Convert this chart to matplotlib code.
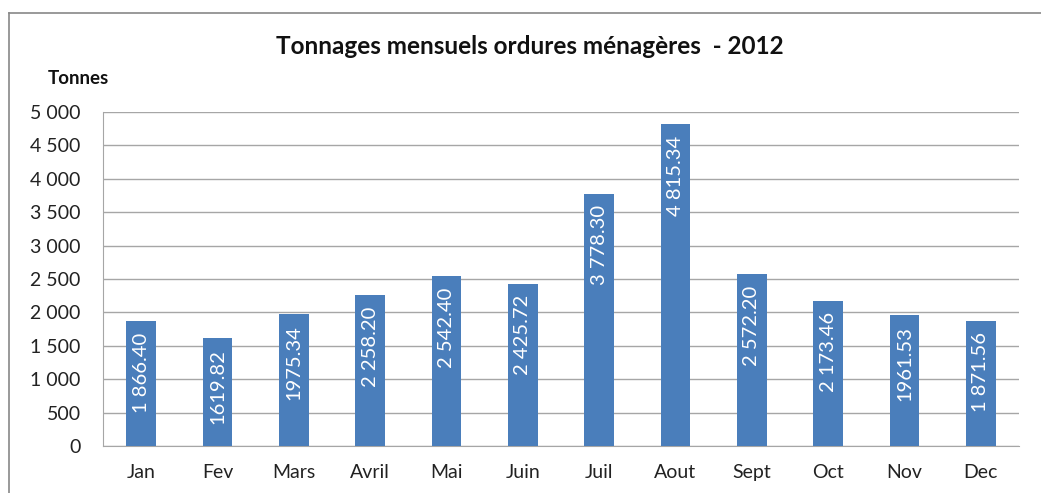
import matplotlib.pyplot as plt
from matplotlib.lines import Line2D

months = ['Jan', 'Fev', 'Mars', 'Avril', 'Mai', 'Juin', 'Juil', 'Aout', 'Sept', 'Oct', 'Nov', 'Dec']
tonnes = [1866.40, 1619.82, 1975.34, 2258.20, 2542.40, 2425.72, 3778.30, 4815.34, 2572.20, 2173.46, 1961.53, 1871.56]
bar_labels = ['1 866.40', '1619.82', '1975.34', '2 258.20', '2 542.40', '2 425.72',
              '3 778.30', '4 815.34', '2 572.20', '2 173.46', '1961.53', '1 871.56']
yticks = [0, 500, 1000, 1500, 2000, 2500, 3000, 3500, 4000, 4500, 5000]
ytick_labels = ['0', '500', '1 000', '1 500', '2 000', '2 500', '3 000', '3 500', '4 000', '4 500', '5 000']

plt.rcParams['font.family'] = ['Lato', 'DejaVu Sans']

fig = plt.figure(figsize=(10.41, 4.93), dpi=100)
ax = fig.add_axes([103 / 1041, 1 - 446 / 493, (1019 - 103) / 1041, (446 - 112) / 493])

x = list(range(len(months)))
bars = ax.bar(x, tonnes, width=0.39, color='#4a7ebb', zorder=3)
# value labels sit inside the top end of each bar
for xi, val, lab in zip(x, tonnes, bar_labels):
    ax.annotate(lab, (xi, val), xytext=(0, -8), textcoords='offset points', rotation=90,
                ha='center', va='top', color='white', fontsize=14.5, zorder=4)

ax.set_xlim(-0.5, 11.5)
ax.set_ylim(0, 5000)
ax.set_xticks(x)
ax.set_xticklabels(months, fontsize=14, color='#222222')
ax.set_yticks(yticks)
ax.set_yticklabels(ytick_labels, fontsize=14, color='#222222')
ax.tick_params(axis='x', length=0, pad=13)
ax.tick_params(axis='y', length=0, pad=16)
ax.grid(axis='y', color='#a6a6a6', linewidth=1.0, zorder=0)
for side in ['top', 'right']:
    ax.spines[side].set_visible(False)
ax.spines['left'].set_color('#a6a6a6')
ax.spines['bottom'].set_color('#a6a6a6')

fig.text(530 / 1041, 1 - 46 / 493, 'Tonnages mensuels ordures ménagères  - 2012',
         ha='center', va='center', fontsize=17.5, fontweight='bold', color='#111111')
fig.text(48 / 1041, 1 - 78 / 493, 'Tonnes', ha='left', va='center', fontsize=13.5,
         fontweight='bold', color='#111111')

# chart frame
fig.add_artist(Line2D([9 / 1041, 1.0], [1 - 13 / 493, 1 - 13 / 493], color='#888888', linewidth=1.2))
fig.add_artist(Line2D([9 / 1041, 9 / 1041], [0, 1 - 13 / 493], color='#888888', linewidth=1.2))

fig.savefig('out.png', dpi=100)
